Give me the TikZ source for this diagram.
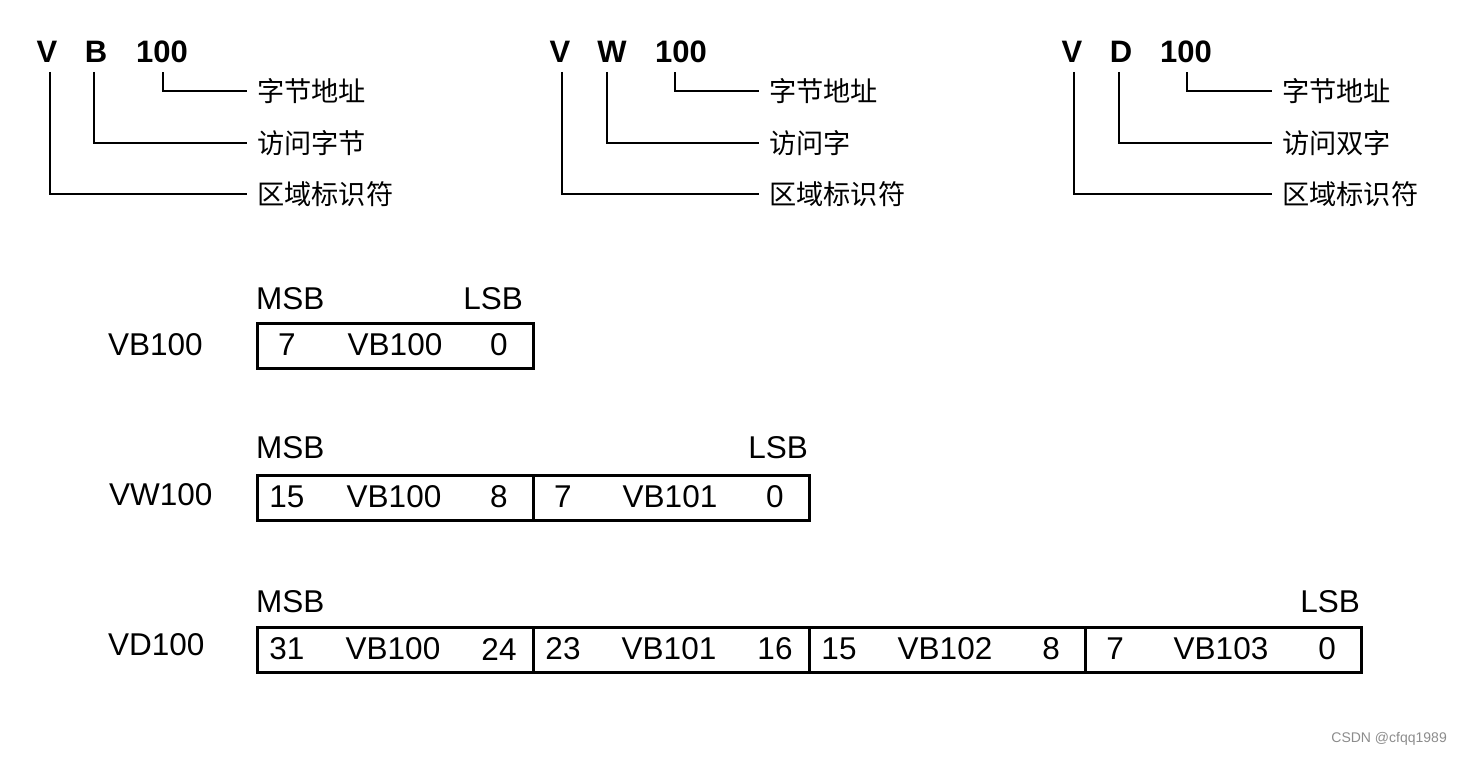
\documentclass[tikz,border=0pt]{standalone}
\usepackage{fontspec}
\setmainfont{Liberation Sans}
\newfontfamily\cjk{Noto Sans CJK SC}
\begin{document}
\begin{tikzpicture}[x=1pt,y=-1pt,
 big/.style={font=\fontsize{31}{31}\selectfont\bfseries, inner sep=0},
 lab/.style={font=\cjk\fontsize{27.2}{27.2}\selectfont, anchor=west, inner sep=0},
 conn/.style={line width=2pt},
 txt/.style={font=\fontsize{31.5}{31.5}\selectfont, inner sep=0},
 cell/.style={draw, line width=2.5pt, minimum width=276pt, minimum height=45pt, inner sep=0, anchor=north west},
]
\useasboundingbox (0,0) rectangle (1462,756);

% ---------- top: address format ----------
% group 1
\node[big] (g1v) at (47,52) {V};
\node[big] (g1t) at (96,52) {B};
\node[big] (g1n) at (162,52) {100};
\node[lab] (g1a) at (257,91) {字节地址};
\node[lab] (g1b) at (257,143) {访问字节};
\node[lab] (g1c) at (257,194) {区域标识符};
\draw[conn] ([xshift=1pt,yshift=-9pt]g1n.south) |- ([xshift=-10pt]g1a.west);
\draw[conn] ([xshift=-2pt,yshift=-9pt]g1t.south) |- ([xshift=-10pt]g1b.west);
\draw[conn] ([xshift=3pt,yshift=-9pt]g1v.south) |- ([xshift=-10pt]g1c.west);
% group 2
\node[big] (g2v) at (560,52) {V};
\node[big] (g2t) at (612,52) {W};
\node[big] (g2n) at (681,52) {100};
\node[lab] (g2a) at (769,91) {字节地址};
\node[lab] (g2b) at (769,143) {访问字};
\node[lab] (g2c) at (769,194) {区域标识符};
\draw[conn] ([xshift=-6pt,yshift=-9pt]g2n.south) |- ([xshift=-10pt]g2a.west);
\draw[conn] ([xshift=-5pt,yshift=-9pt]g2t.south) |- ([xshift=-10pt]g2b.west);
\draw[conn] ([xshift=2pt,yshift=-9pt]g2v.south) |- ([xshift=-10pt]g2c.west);
% group 3
\node[big] (g3v) at (1072,52) {V};
\node[big] (g3t) at (1121,52) {D};
\node[big] (g3n) at (1186,52) {100};
\node[lab] (g3a) at (1282,91) {字节地址};
\node[lab] (g3b) at (1282,143) {访问双字};
\node[lab] (g3c) at (1282,194) {区域标识符};
\draw[conn] ([xshift=1pt,yshift=-9pt]g3n.south) |- ([xshift=-10pt]g3a.west);
\draw[conn] ([xshift=-2pt,yshift=-9pt]g3t.south) |- ([xshift=-10pt]g3b.west);
\draw[conn] ([xshift=2pt,yshift=-9pt]g3v.south) |- ([xshift=-10pt]g3c.west);

% ---------- row 1: VB100 ----------
\node[txt, anchor=west] (r1name) at (108,345) {VB100};
\node[txt, anchor=west] (r1msb) at (256,299) {MSB};
\node[txt, anchor=east] (r1lsb) at (523,299) {LSB};
\node[cell] (r1c1) at (256,322) {};
\node[txt] (r1c1a) at (287,345) {7};
\node[txt] (r1c1n) at (395,345) {VB100};
\node[txt] (r1c1b) at (499,345) {0};

% ---------- row 2: VW100 ----------
\node[txt, anchor=west] (r2name) at (109,495) {VW100};
\node[txt, anchor=west] (r2msb) at (256,448) {MSB};
\node[txt, anchor=east] (r2lsb) at (808,448) {LSB};
\foreach \i/\x/\a/\n/\b in {1/256/15/VB100/8, 2/532/7/VB101/0}{
  \node[cell] (r2c\i) at (\x,474) {};
  \node[txt] (r2c\i a) at (\x+31,497) {\a};
  \node[txt] (r2c\i n) at (\x+138,497) {\n};
  \node[txt] (r2c\i b) at (\x+243,497) {\b};
}

% ---------- row 3: VD100 ----------
\node[txt, anchor=west] (r3name) at (108,645) {VD100};
\node[txt, anchor=west] (r3msb) at (256,602) {MSB};
\node[txt, anchor=east] (r3lsb) at (1360,602) {LSB};
\foreach \i/\x/\a/\n/\b in {1/256/31/VB100/24, 2/532/23/VB101/16, 3/808/15/VB102/8, 4/1084/7/VB103/0}{
  \node[cell] (r3c\i) at (\x,626) {};
  \node[txt] (r3c\i a) at (\x+31,649) {\a};
  \node[txt] (r3c\i n) at (\x+137,649) {\n};
  \node[txt] (r3c\i b) at (\x+243,649) {\b};
}

% watermark
\node[font=\fontsize{14}{14}\selectfont, text=black!45, anchor=east, inner sep=0] (wm) at (1447,739) {CSDN @cfqq1989};
\end{tikzpicture}
\end{document}
